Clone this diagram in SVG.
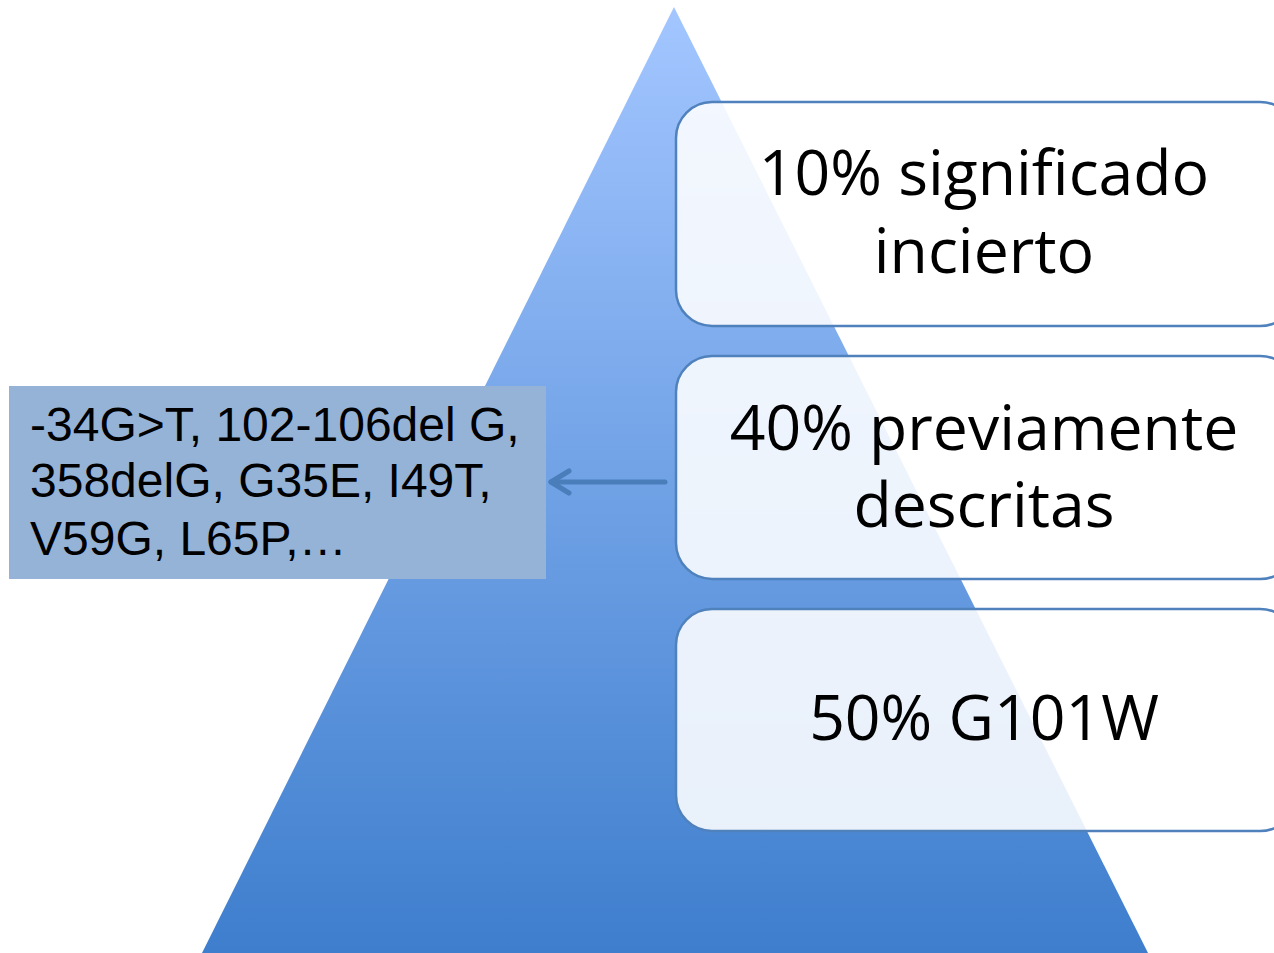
<svg xmlns="http://www.w3.org/2000/svg" width="1274" height="953" viewBox="0 0 1274 953">
<style>
.box{fill:#ffffff;fill-opacity:0.88;stroke:#4f81bd;stroke-width:2.5}
.big{font-family:"Open Sans","Liberation Sans",sans-serif;font-size:62.5px;fill:#000;text-anchor:middle}
.small{font-family:"Liberation Sans",Arial,sans-serif;font-size:48px;fill:#000}
</style>
<defs>
<linearGradient id="pg" x1="0" y1="0" x2="0" y2="1">
<stop offset="0" stop-color="#a3c6ff"/>
<stop offset="1" stop-color="#3e7ecd"/>
</linearGradient>
</defs>
<rect width="1274" height="953" fill="#fff"/>
<g id="pyramid"><polygon points="674,7 1148,953 202,953" fill="url(#pg)"/></g>
<g id="box1"><rect class="box" x="676" y="102" width="620" height="224" rx="36"/>
<text class="big" x="984" y="195">10% significado</text><text class="big" x="984" y="273">incierto</text></g>
<g id="box2"><rect class="box" x="676" y="356" width="620" height="223" rx="36"/>
<text class="big" x="984" y="450">40% previamente</text><text class="big" x="984" y="527">descritas</text></g>
<g id="box3"><rect class="box" x="676" y="609" width="620" height="222" rx="36"/>
<text class="big" x="984" y="740">50% G101W</text></g>
<g id="mutations"><rect x="9" y="386" width="537" height="193" fill="#95b3d7"/>
<text class="small" x="30" y="441">-34G&gt;T, 102-106del G,</text>
<text class="small" x="30" y="497">358delG, G35E, I49T,</text>
<text class="small" x="30" y="555">V59G, L65P,…</text></g>
<g id="connectors" stroke="#4a7ebb" stroke-width="5" fill="none" stroke-linecap="round" stroke-linejoin="round">
<line x1="665" y1="482" x2="551" y2="482"/>
<polyline points="569,471 551,482 569,493"/>
</g>
</svg>
